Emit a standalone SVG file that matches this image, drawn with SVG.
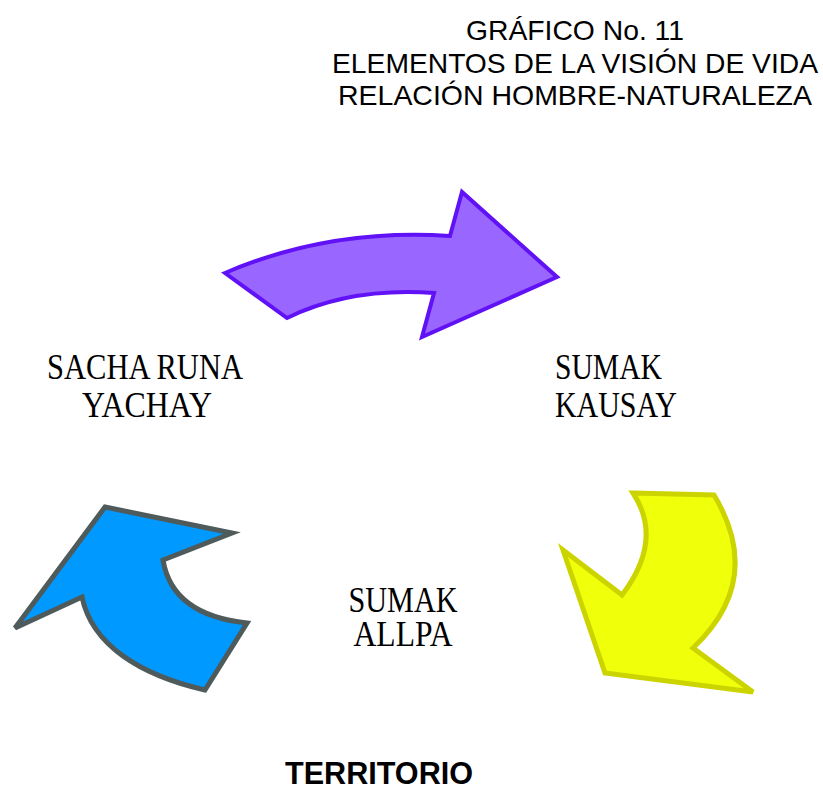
<svg xmlns="http://www.w3.org/2000/svg" width="823" height="787" viewBox="0 0 823 787">
<style>
.title{font-family:"Liberation Sans",Arial,sans-serif;font-size:28px;fill:#000;text-anchor:middle}
.lbl{font-family:"Liberation Serif","Times New Roman",serif;font-size:35px;fill:#000}
.bold{font-family:"Liberation Sans",Arial,sans-serif;font-size:31px;font-weight:bold;fill:#000;text-anchor:middle}
</style>
<rect width="823" height="787" fill="#fff"/>
<g id="title">
<text class="title" x="575" y="40" textLength="218" lengthAdjust="spacingAndGlyphs">GRÁFICO No. 11</text>
<text class="title" x="575" y="73" textLength="486" lengthAdjust="spacingAndGlyphs">ELEMENTOS DE LA VISIÓN DE VIDA</text>
<text class="title" x="575" y="105" textLength="474" lengthAdjust="spacingAndGlyphs">RELACIÓN HOMBRE-NATURALEZA</text>
</g>
<g id="connectors">
<path id="arrow-purple" d="M225,273 Q330,228 450,236 L462,192 L557,277 L422,337 L434,293 Q350,287 287,318 Z" fill="#9966FF" stroke="#6111F5" stroke-width="4" stroke-linejoin="miter"/>
<path id="arrow-yellow" d="M633,493 L714,495 Q765,580 693,648 L753,692 L605,673 L563,550 L622,595 Q664,540 633,493 Z" fill="#F0FF0A" stroke="#CCD400" stroke-width="5"/>
<path id="arrow-blue" d="M105,507 L232,533 L163,560 Q172,615 247,623 L205,690 C140,675 92,645 82,597 L15,628 Z" fill="#0099FF" stroke="#4F5B5B" stroke-width="5"/>
</g>
<g id="node-sacha">
<text class="lbl" x="145" y="379" text-anchor="middle" textLength="196" lengthAdjust="spacingAndGlyphs">SACHA RUNA</text>
<text class="lbl" x="147" y="417" text-anchor="middle" textLength="130" lengthAdjust="spacingAndGlyphs">YACHAY</text>
</g>
<g id="node-kausay">
<text class="lbl" x="555" y="379" textLength="107" lengthAdjust="spacingAndGlyphs">SUMAK</text>
<text class="lbl" x="555" y="417" textLength="122" lengthAdjust="spacingAndGlyphs">KAUSAY</text>
</g>
<g id="node-allpa">
<text class="lbl" x="403" y="612" text-anchor="middle" textLength="109" lengthAdjust="spacingAndGlyphs">SUMAK</text>
<text class="lbl" x="403" y="646" text-anchor="middle" textLength="99" lengthAdjust="spacingAndGlyphs">ALLPA</text>
</g>
<g id="territorio">
<text class="bold" x="379" y="784" textLength="188" lengthAdjust="spacingAndGlyphs">TERRITORIO</text>
</g>
</svg>
